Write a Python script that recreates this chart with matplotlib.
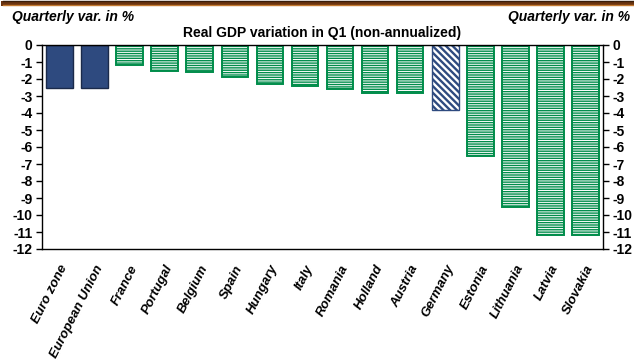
import matplotlib
matplotlib.use("Agg")
import matplotlib.pyplot as plt
from matplotlib.lines import Line2D

plt.rcParams['font.family'] = ['Liberation Sans', 'DejaVu Sans']

countries = ["Euro zone", "European Union", "France", "Portugal", "Belgium", "Spain",
             "Hungary", "Italy", "Romania", "Holland", "Austria", "Germany",
             "Estonia", "Lithuania", "Latvia", "Slovakia"]
gdp_var = [-2.5, -2.5, -1.2, -1.5, -1.6, -1.9, -2.3, -2.4, -2.6, -2.8, -2.8,
           -3.8, -6.5, -9.5, -11.2, -11.2]
yticks = list(range(0, -13, -1))

navy = "#2e4a7f"
green = "#008c4a"


def hatched_bar(ax, xpos, val, hatch, color, hlw, lw):
    with plt.rc_context({'hatch.linewidth': hlw, 'hatch.color': color}):
        bars = ax.bar(xpos, val, width=0.76, color="white", edgecolor=color,
                      hatch=hatch, linewidth=lw)
    for b in bars:
        if hasattr(b, "set_hatch_linewidth"):
            b.set_hatch_linewidth(hlw)
    return bars


fig = plt.figure(figsize=(6.34, 3.6), dpi=100)
ax = fig.add_axes([42/634, 1 - 249/360, (603 - 42)/634, (249 - 45)/360])

x = list(range(len(countries)))
for i, (c, v) in enumerate(zip(countries, gdp_var)):
    if c in ("Euro zone", "European Union"):
        ax.bar(i, v, width=0.76, color=navy, edgecolor="#1a2a4a", linewidth=1.0)
    elif c == "Germany":
        hatched_bar(ax, i, v, "\\\\\\\\\\", navy, 1.7, 1.0)
    else:
        hatched_bar(ax, i, v, "-------", green, 1.0, 1.4)

ax.set_xlim(-0.5, len(countries) - 0.5)
ax.set_ylim(-12, 0)
ax.set_yticks(yticks)
ax.set_yticklabels([str(t) for t in yticks], fontsize=10, fontweight="bold")
ax.tick_params(axis="y", which="both", left=True, right=True, labelleft=True,
               labelright=True, direction="out", length=4, width=1, pad=3)
ax.set_xticks(x)
ax.set_xticklabels(countries, rotation=63, ha="right", rotation_mode="anchor",
                   fontsize=9.5, fontweight="bold", fontstyle="italic")
ax.tick_params(axis="x", length=0, pad=10)
for s in ax.spines.values():
    s.set_linewidth(1.0)
    s.set_color("black")

fig.text(322/634, 1 - 33/360, "Real GDP variation in Q1 (non-annualized)",
         ha="center", va="center", fontsize=10, fontweight="bold")
fig.text(12/634, 1 - 17/360, "Quarterly var. in %", ha="left", va="center",
         fontsize=10, fontweight="bold", fontstyle="italic")
fig.text(630/634, 1 - 17/360, "Quarterly var. in %", ha="right", va="center",
         fontsize=10, fontweight="bold", fontstyle="italic")

# top decorative band
fig.add_artist(Line2D([0.004, 1], [1 - 2.5/360, 1 - 2.5/360], transform=fig.transFigure,
                      color="#6b3410", linewidth=3.6))
fig.add_artist(Line2D([0.004, 1], [1 - 0.5/360, 1 - 0.5/360], transform=fig.transFigure,
                      color="#3a1e0a", linewidth=1.0))
fig.add_artist(Line2D([0.004, 1], [1 - 5.2/360, 1 - 5.2/360], transform=fig.transFigure,
                      color="#c47a30", linewidth=1.0))

fig.savefig("out.png", dpi=100)
